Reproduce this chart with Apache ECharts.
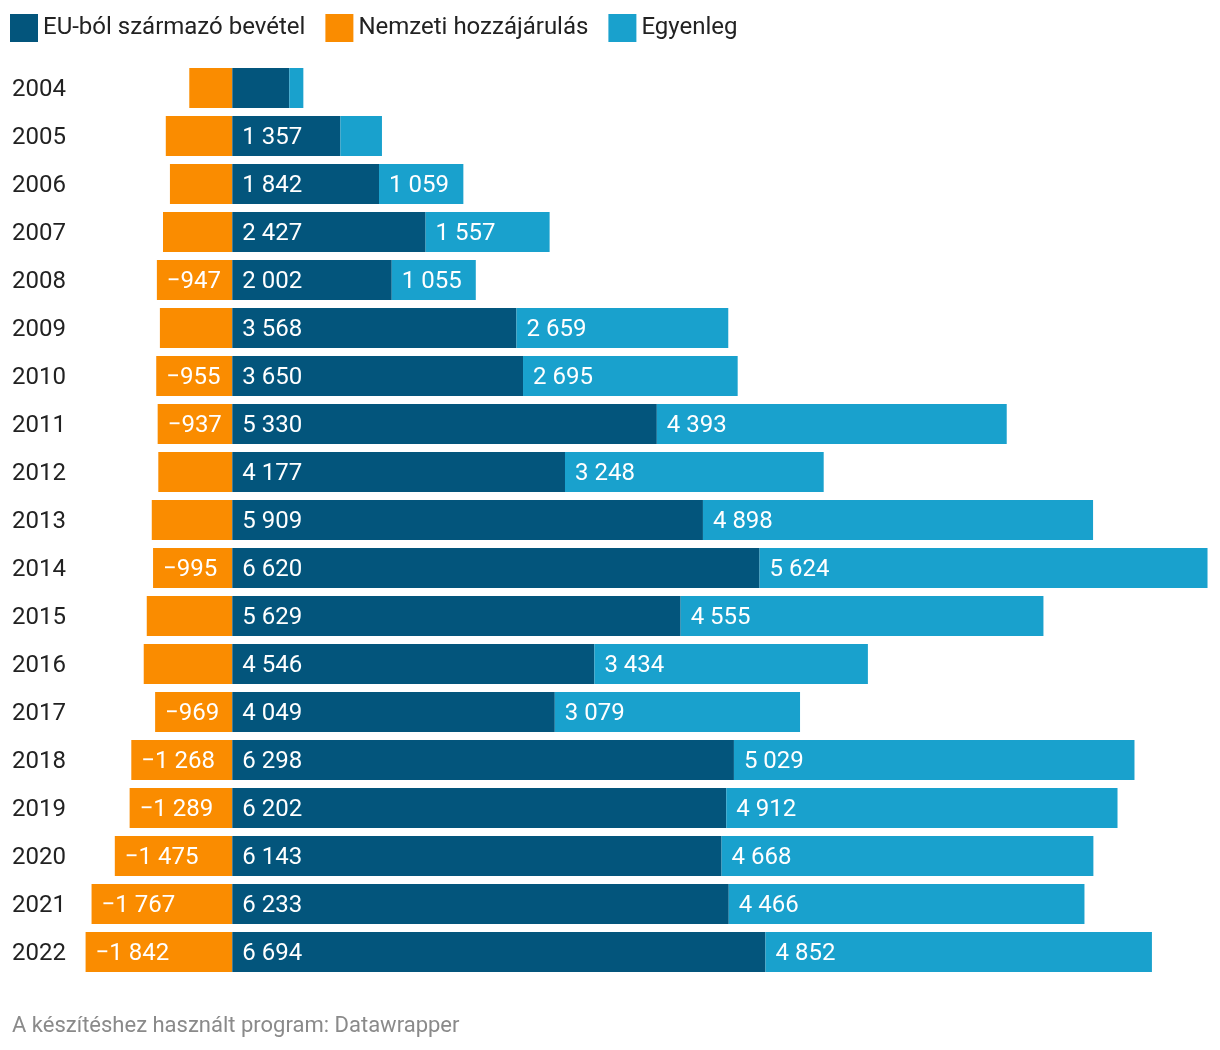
<!DOCTYPE html>
<html>
<head>
<meta charset="utf-8">
<script src="https://cdn.jsdelivr.net/npm/echarts@6/dist/echarts.min.js"></script>
<style>
html,body{margin:0;padding:0;background:#fff;}
#chart{width:1220px;height:1050px;}
</style>
</head>
<body>
<div id="chart"></div>
<script>
const years = ['2004','2005','2006','2007','2008','2009','2010','2011','2012','2013','2014','2015','2016','2017','2018','2019','2020','2021','2022'];
const euIncome = [716,1357,1842,2427,2002,3568,3650,5330,4177,5909,6620,5629,4546,4049,6298,6202,6143,6233,6694];
const nationalContribution = [-540,-835,-783,-870,-947,-909,-955,-937,-929,-1011,-995,-1074,-1112,-969,-1268,-1289,-1475,-1767,-1842];
const balance = [176,522,1059,1557,1055,2659,2695,4393,3248,4898,5624,4555,3434,3079,5029,4912,4668,4466,4852];
// which value labels are printed in the original
const euLabelShown = [false,true,true,true,true,true,true,true,true,true,true,true,true,true,true,true,true,true,true];
const nationalLabelShown = [false,false,false,false,true,false,true,true,false,false,true,false,false,true,true,true,true,true,true];
const balanceLabelShown = [false,false,true,true,true,true,true,true,true,true,true,true,true,true,true,true,true,true,true];
const seriesNames = ['EU-ból származó bevétel','Nemzeti hozzájárulás','Egyenleg'];
const footer = 'A készítéshez használt program: Datawrapper';

const FONT = 'Roboto, "Noto Sans", sans-serif';
function fmt(v){
  const s = Math.abs(v).toString().replace(/\B(?=(\d{3})+(?!\d))/g,' ');
  return (v < 0 ? '\u2212' : '') + s;
}
function labelFor(flags){
  return {
    show: true,
    position: 'insideLeft',
    distance: 10,
    offset: [0, 2],
    color: '#fff',
    fontSize: 24,
    fontFamily: FONT,
    formatter: p => flags[p.dataIndex] ? fmt(p.value) : ''
  };
}
const chart = echarts.init(document.getElementById('chart'), null, {renderer:'canvas'});
chart.setOption({
  animation: false,
  textStyle: {fontFamily: FONT},
  legend: {
    left: 5, top: 9,
    itemWidth: 28, itemHeight: 28, itemGap: 20,
    icon: 'rect',
    textStyle: {fontSize: 24, color: '#222', fontFamily: FONT},
    data: [seriesNames[0], seriesNames[1], seriesNames[2]]
  },
  grid: {left: 73, right: 12, top: 64, bottom: 74, containLabel: false},
  xAxis: {
    type: 'value', min: -2000, max: 12250,
    show: false
  },
  yAxis: {
    type: 'category', data: years, inverse: true,
    axisLine: {show: false, onZero: false},
    axisTick: {show: false},
    axisLabel: {align: 'left', verticalAlign: 'top', lineHeight: 4, margin: 61, fontSize: 24, color: '#222', fontFamily: FONT}
  },
  series: [
    {name: seriesNames[1], type: 'bar', stack: 'total', barWidth: 40, data: nationalContribution,
     itemStyle: {color: '#fa8c00'}, label: labelFor(nationalLabelShown)},
    {name: seriesNames[0], type: 'bar', stack: 'total', barWidth: 40, data: euIncome,
     itemStyle: {color: '#03557c'}, label: labelFor(euLabelShown)},
    {name: seriesNames[2], type: 'bar', stack: 'total', barWidth: 40, data: balance,
     itemStyle: {color: '#19a1cd'}, label: labelFor(balanceLabelShown)}
  ],
  graphic: [{
    type: 'text', left: 12, top: 1015,
    style: {text: footer, fontSize: 22, fill: '#8a8a8a', fontFamily: FONT}
  }]
});
</script>
</body>
</html>
